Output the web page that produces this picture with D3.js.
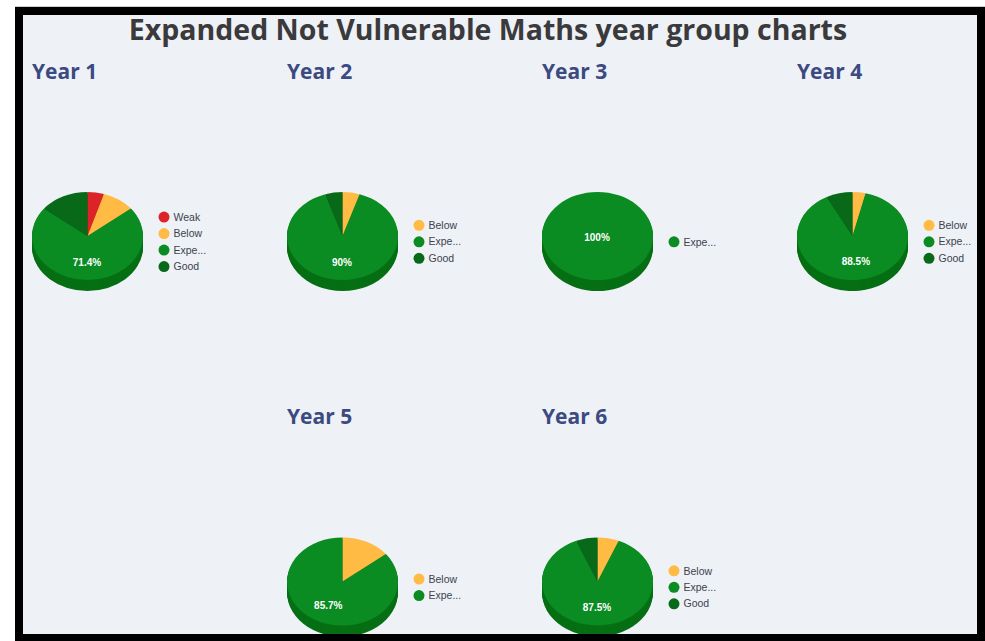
<!DOCTYPE html>
<meta charset="utf-8">
<style>
  html, body { margin: 0; padding: 0; background: #fff; overflow: hidden; }
</style>
<script src="https://d3js.org/d3.v7.min.js"></script>
<div id="my_dataviz"></div>
<script>

// data (percent of pupils per band)
var chartTitle = "Expanded Not Vulnerable Maths year group charts";
var years = ["Year 1", "Year 2", "Year 3", "Year 4", "Year 5", "Year 6"];
var columns = [0, 1, 2, 3, 1, 2];
var rows = [0, 0, 0, 0, 1, 1];
var bands = ["Weak", "Below", "Expected", "Good"];
var legendNames = ["Weak", "Below", "Expe...", "Good"];
var year1 = [4.8, 9.5, 71.4, 14.3];
var year2 = [0, 5, 90, 5];
var year3 = [0, 0, 100, 0];
var year4 = [0, 3.8, 88.5, 7.7];
var year5 = [0, 14.3, 85.7, 0];
var year6 = [0, 6.25, 87.5, 6.25];
var yearValues = [year1, year2, year3, year4, year5, year6];
var bandColors = ["#dc2428", "#ffbb44", "#0a8c22", "#086a18"];
var sideColors = ["#a81b1e", "#c98f30", "#066f14", "#054f10"];

var width = 985, height = 641;

var svg = d3.select("#my_dataviz")
  .append("svg")
    .attr("width", width)
    .attr("height", height)
    .style("display", "block");

// panel background
svg.append("rect")
  .attr("x", 15).attr("y", 7)
  .attr("width", width - 15).attr("height", height - 7)
  .attr("fill", "#eef1f5");
svg.append("rect")
  .attr("x", 15).attr("y", 6)
  .attr("width", width - 15).attr("height", 1)
  .attr("fill", "#cfcfcf");

svg.append("text")
  .attr("x", 488).attr("y", 40)
  .attr("text-anchor", "middle")
  .style("font", "bold 28.5px 'Open Sans'")
  .attr("fill", "#3a3a3c")
  .text(chartTitle);

var colX = d3.scaleLinear().domain([0, 3]).range([32, 797]);
var rowY = d3.scaleLinear().domain([0, 1]).range([236, 581.5]);
var titleY = d3.scaleLinear().domain([0, 1]).range([79, 424]);
var color = d3.scaleOrdinal().domain(bands).range(bandColors);
var sideColor = d3.scaleOrdinal().domain(bands).range(sideColors);

var radius = 55.5, squash = 0.793, depth = 11;
var pie = d3.pie().sort(null).value(function(d) { return d.value; });
var arc = d3.arc().innerRadius(0).outerRadius(radius);
var labelArc = d3.arc().innerRadius(radius * 0.57).outerRadius(radius * 0.57);

years.forEach(function(year, i) {
  var left = colX(columns[i]);
  var cy = rowY(rows[i]);
  var cx = left + 55.5;

  svg.append("text")
    .attr("x", left).attr("y", titleY(rows[i]))
    .style("font", "bold 21px 'Open Sans'")
    .attr("fill", "#3c4a82")
    .text(year);

  var slices = bands.map(function(b, j) { return {band: b, value: yearValues[i][j], name: legendNames[j]}; });
  var arcs = pie(slices).filter(function(d) { return d.data.value > 0; });

  // side wall: dark copies stacked downward
  d3.range(depth, 0, -1).forEach(function(dy) {
    svg.append("g")
      .attr("transform", "translate(" + cx + "," + (cy + dy) + ") scale(1," + squash + ")")
      .selectAll("path")
      .data(arcs)
      .join("path")
        .attr("d", arc)
        .attr("fill", function(d) { return sideColor(d.data.band); });
  });

  // top face
  svg.append("g")
    .attr("transform", "translate(" + cx + "," + cy + ") scale(1," + squash + ")")
    .selectAll("path")
    .data(arcs)
    .join("path")
      .attr("d", arc)
      .attr("fill", function(d) { return color(d.data.band); });

  // only the biggest slice carries a label
  var biggest = arcs.reduce(function(a, b) { return b.data.value > a.data.value ? b : a; });
  var c = biggest.data.value === 100 ? [0, 0] : labelArc.centroid(biggest);
  svg.append("text")
    .attr("x", cx + c[0] - 0.5)
    .attr("y", cy + c[1] * squash + 4.5)
    .attr("text-anchor", "middle")
    .style("font", "bold 10px 'Liberation Sans'")
    .attr("fill", "#ffffff")
    .text(biggest.data.value + "%");

  // legend, centred on the pie
  var legendItems = slices.filter(function(d) { return d.value > 0; });
  var legendY = d3.scalePoint()
    .domain(legendItems.map(function(d) { return d.band; }))
    .range([0, (legendItems.length - 1) * 16.5]);
  var legendTop = cy + 5.8 - (legendItems.length - 1) * 16.5 / 2;
  var legend = svg.append("g")
    .attr("transform", "translate(" + (left + 132) + "," + legendTop + ")");
  legend.selectAll("circle")
    .data(legendItems)
    .join("circle")
      .attr("cx", 0)
      .attr("cy", function(d) { return legendItems.length > 1 ? legendY(d.band) : 0; })
      .attr("r", 5.5)
      .attr("fill", function(d) { return color(d.band); });
  legend.selectAll("text")
    .data(legendItems)
    .join("text")
      .attr("x", 9.5)
      .attr("y", function(d) { return (legendItems.length > 1 ? legendY(d.band) : 0) + 3.7; })
      .style("font", "10.5px 'Liberation Sans'")
      .attr("fill", "#3d4350")
      .text(function(d) { return d.name; });
});

// black frame on top, it cuts off the bottom pies
svg.append("path")
  .attr("fill-rule", "evenodd")
  .attr("fill", "#000")
  .attr("d", "M15,7H985V641H15Z M23,15V634H977V15Z");

</script>
